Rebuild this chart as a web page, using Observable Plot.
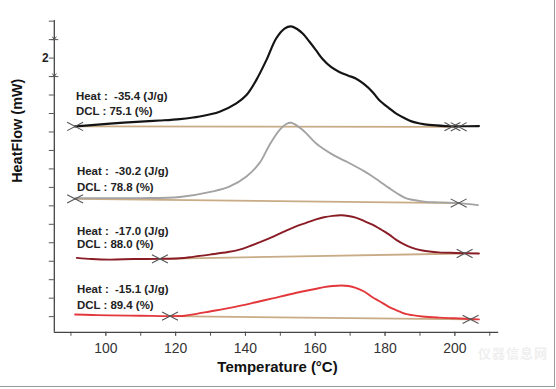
<!DOCTYPE html>
<html><head><meta charset="utf-8">
<script src="https://cdn.jsdelivr.net/npm/d3@7"></script>
<script src="https://cdn.jsdelivr.net/npm/@observablehq/plot@0.6"></script>
<style>
body{margin:0;background:#fff;}
#wrap{position:relative;width:554px;height:386px;border-right:1.5px solid #9a9a9a;border-bottom:1.5px solid #9a9a9a;overflow:hidden;background:#fff;}
#chart{position:absolute;left:0;top:0;}
#wm{position:absolute;left:478px;top:343px;font-family:"Noto Sans CJK SC";font-size:13px;color:#efefef;font-weight:bold;white-space:nowrap;letter-spacing:1px;}
</style></head><body>
<div id="wrap"><div id="chart"></div><div id="wm">仪器信息网</div></div>
<script>
// ---- data (temperature °C, heat flow mW with arbitrary per-curve offset) ----
const blackT  = [91.2,94.1,101.2,110,115.5,121.2,126.9,132.6,137.4,140.3,143.1,146.0,148.8,151.2,153.1,155.0,156.4,158.3,160.2,162.1,164.5,166.9,169.5,171.6,174,176.4,178.3,181.2,183.1,185.5,187.8,190,192.6,197.3,201,206.9];
const blackHF = [10.30,10.34,10.45,10.56,10.62,10.70,10.84,11.10,11.55,12.0,12.81,13.89,15.06,15.6,15.72,15.55,15.33,14.9,14.43,13.95,13.52,13.25,13.05,12.90,12.59,12.17,11.73,11.28,11.01,10.76,10.56,10.46,10.38,10.32,10.31,10.32];

const grayT  = [91.2,101,110,121.2,130.7,135.5,140.3,144.0,146.9,149.8,151.7,153.1,156.4,160.2,162.1,164.5,166.9,169.3,171.6,174,176.4,178.3,181.2,183.5,185.9,187.8,190.7,192.6,195.4,201.1,206.6];
const grayHF = [6.41,6.42,6.42,6.48,6.78,7.05,7.59,8.31,9.30,10.11,10.43,10.50,10.11,9.39,9.12,8.83,8.58,8.36,8.13,7.88,7.59,7.35,6.96,6.67,6.42,6.33,6.24,6.20,6.19,6.15,6.04];

const darkT  = [91.7,96,101.2,108,115.5,121.2,125,129.8,135,138.3,141,144,147.8,151,154,157.4,160,162.5,165,167.5,169.5,171.6,174,176.4,178.3,181.2,183.1,185.9,187.8,190.7,195.4,200.2,206.9];
const darkHF = [3.18,3.12,3.09,3.12,3.13,3.16,3.24,3.36,3.50,3.63,3.80,4.02,4.32,4.60,4.85,5.08,5.25,5.38,5.46,5.49,5.45,5.36,5.18,4.98,4.78,4.44,4.17,3.87,3.72,3.58,3.48,3.45,3.42];

const redT  = [91.2,96,101.2,110,118.4,122.6,126,129.8,134,138.3,143,147.8,152.5,157.4,160,162.5,165,167.5,169.5,171.6,174,176.4,178.3,181.2,183.1,185.9,187.8,190.7,195.4,200,204.5,206.9];
const redHF = [0.12,0.09,0.07,0.05,0.03,0.05,0.15,0.28,0.42,0.58,0.78,0.99,1.20,1.40,1.50,1.60,1.66,1.69,1.66,1.56,1.36,1.05,0.85,0.52,0.36,0.15,0.08,0.01,-0.05,-0.09,-0.13,-0.15];

// baselines (start/end) and integration markers
const baseT  = [[91.2,201.1],[91.2,201.1],[115.5,202.8],[118.4,204.5]];
const baseHF = [[10.30,10.28],[6.38,6.15],[3.13,3.42],[0.03,-0.15]];
const markT  = [91.2,199.3,201.1, 91.2,201.1, 115.5,202.8, 118.4,204.5];
const markHF = [10.30,10.29,10.28, 6.38,6.15, 3.13,3.42, 0.03,-0.15];

// annotations
const heatLabels = ["Heat :\u00a0 -35.4 (J/g)","Heat :\u00a0 -30.2 (J/g)","Heat :\u00a0 -17.0 (J/g)","Heat :\u00a0 -15.1 (J/g)"];
const dclLabels  = ["DCL : 75.1 (%)","DCL : 78.8 (%)","DCL : 88.0 (%)","DCL : 89.4 (%)"];
const labelT     = [91.44,91.72,91.72,91.72];
const heatLabelHF= [11.94,7.86,4.62,1.47];
const dclLabelHF = [11.10,7.02,3.90,0.61];

const xTicks = [100,120,140,160,180,200];
const xMinor = [90,100,110,120,130,140,150,160,170,180,190,200,210];
const yTicks = d3.range(0,17);
const scaleBarHF = [13,15];
const scaleBarText = "2";
const xDomain = [85.24,212.56];
const yDomain = [-0.847,16.04];

const curveColors = ["#141414","#a3a3a3","#8a1c26","#e3383b"];
const baseColor = "#c9ab86";

const rows = (T,H) => T.map((t,i)=>({T:t,HF:H[i]}));
const curves = [rows(blackT,blackHF),rows(grayT,grayHF),rows(darkT,darkHF),rows(redT,redHF)];
const baselines = baseT.map((b,k)=>({T1:b[0],T2:b[1],H1:baseHF[k][0],H2:baseHF[k][1]}));
const marks = rows(markT,markHF);
const labels = [];
labelT.forEach((t,i)=>{labels.push({T:t,HF:heatLabelHF[i],text:heatLabels[i]});labels.push({T:t,HF:dclLabelHF[i],text:dclLabels[i]});});

const flatX = {draw(ctx){const w=8,h=4.2;ctx.moveTo(-w,-h);ctx.lineTo(w,h);ctx.moveTo(-w,h);ctx.lineTo(w,-h);}};
const hTick = {draw(ctx){ctx.moveTo(-3,0);ctx.lineTo(4,0);ctx.moveTo(-2,-3);ctx.lineTo(0,0);ctx.lineTo(2,-3);}};

const plot = Plot.plot({
  width:556, height:389,
  marginLeft:54, marginRight:56, marginTop:20, marginBottom:56,
  x:{domain:xDomain, label:null},
  y:{domain:yDomain, label:null},
  style:{fontFamily:"'Liberation Sans', Arial, sans-serif", background:"transparent", color:"#333"},
  marks:[
    Plot.axisX(xMinor,{tickSize:4, tickFormat:()=>"", stroke:"#555", label:null}),
    Plot.axisX(xTicks,{tickSize:4, tickPadding:7, fontSize:14, fill:"#333", stroke:"#555", label:null}),
    Plot.axisY(yTicks,{tickSize:5, tickFormat:()=>"", stroke:"#555", label:null}),
    Plot.ruleX([xDomain[0]],{stroke:"#444", strokeWidth:1.3}),
    Plot.ruleY([yDomain[0]],{stroke:"#444", strokeWidth:1.3}),
    Plot.dot(scaleBarHF.map(h=>({T:xDomain[0],HF:h})),{x:"T",y:"HF",symbol:hTick,r:3,stroke:"#555",fill:"none",strokeWidth:1}),
    Plot.text([{T:xDomain[0],HF:14.02,text:scaleBarText}],{x:"T",y:"HF",text:"text",dx:-9,fontWeight:"bold",fontSize:12,fill:"#222"}),
    Plot.link(baselines,{x1:"T1",x2:"T2",y1:"H1",y2:"H2",stroke:baseColor,strokeWidth:1.8}),
    ...curves.map((c,k)=>Plot.line(c,{x:"T",y:"HF",stroke:curveColors[k],strokeWidth:k===0?2.2:1.9,curve:"catmull-rom"})),
    Plot.dot(marks,{x:"T",y:"HF",symbol:flatX,r:4,stroke:"#555",fill:"none",strokeWidth:1.1}),
    Plot.text(labels,{x:"T",y:"HF",text:"text",textAnchor:"start",fontWeight:"bold",fontSize:11.5,fill:"#222"}),
    Plot.text(["HeatFlow (mW)"],{frameAnchor:"left",rotate:-90,dx:-37,dy:6.5,fontSize:14.5,fontWeight:"bold",fill:"#111"}),
    Plot.text(["Temperature (°C)"],{frameAnchor:"bottom",dx:1,dy:34.7,lineAnchor:"middle",fontSize:15,fontWeight:"bold",fill:"#111"})
  ]
});
document.getElementById("chart").appendChild(plot);
</script>
</body></html>
